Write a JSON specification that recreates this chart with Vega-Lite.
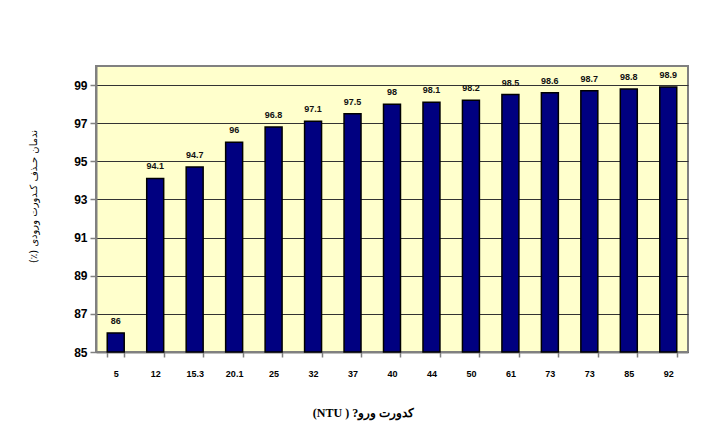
{
  "$schema": "https://vega.github.io/schema/vega-lite/v6.json",
  "autosize": "none",
  "width": 592,
  "height": 286,
  "padding": {"left": 96, "top": 66, "right": 22, "bottom": 95},
  "background": "white",
  "config": {
    "view": {"fill": "#FFFFCC", "stroke": "#808080", "strokeWidth": 2},
    "font": "Liberation Sans"
  },
  "data": {
    "values": [
      {"c": "5", "v": 86},
      {"c": "12", "v": 94.1},
      {"c": "15.3", "v": 94.7},
      {"c": "20.1", "v": 96},
      {"c": "25", "v": 96.8},
      {"c": "32", "v": 97.1},
      {"c": "37", "v": 97.5},
      {"c": "40", "v": 98},
      {"c": "44", "v": 98.1},
      {"c": "50", "v": 98.2},
      {"c": "61", "v": 98.5},
      {"c": "73", "v": 98.6},
      {"c": "73 ", "v": 98.7},
      {"c": "85", "v": 98.8},
      {"c": "92", "v": 98.9}
    ]
  },
  "encoding": {
    "x": {
      "field": "c",
      "type": "nominal",
      "sort": null,
      "scale": {"paddingInner": 0.57, "paddingOuter": 0.285},
      "axis": {
        "title": "(NTU ) ?كدورت ورو",
        "titleFont": "Liberation Serif",
        "titleFontSize": 12,
        "titleFontWeight": "bold",
        "titleColor": "black",
        "titleX": 267,
        "titleY": 60,
        "titleBaseline": "middle",
        "labelAngle": 0,
        "labelFontSize": 9,
        "labelFontWeight": "bold",
        "labelColor": "black",
        "labelPadding": 12,
        "tickBand": "extent",
        "tickColor": "#808080",
        "tickWidth": 1.5,
        "tickSize": 5,
        "domainColor": "#808080",
        "domainWidth": 2
      }
    },
    "y": {
      "field": "v",
      "type": "quantitative",
      "scale": {"domain": [85, 100], "nice": false, "zero": false},
      "axis": {
        "title": "(٪) ندمان حـذف كـدورت ورودی",
        "titleFont": "DejaVu Sans",
        "titleFontSize": 10,
        "titleFontWeight": "normal",
        "titleColor": "black",
        "titleX": -63,
        "titleY": 130,
        "titleAngle": -90,
        "titleAlign": "center",
        "titleBaseline": "middle",
        "values": [85, 87, 89, 91, 93, 95, 97, 99],
        "labelFontSize": 12,
        "labelFontWeight": "bold",
        "labelColor": "black",
        "labelPadding": 3,
        "tickColor": "#808080",
        "tickSize": 6,
        "tickWidth": 1.5,
        "domainColor": "#808080",
        "domainWidth": 2,
        "grid": true,
        "gridColor": "#333333",
        "gridWidth": 1
      }
    }
  },
  "layer": [
    {
      "mark": {"type": "bar", "fill": "#000080", "stroke": "black", "strokeWidth": 1.5},
      "encoding": {"y2": {"datum": 85}}
    },
    {
      "mark": {"type": "text", "baseline": "bottom", "dy": -7, "fontSize": 9, "fontWeight": "bold", "color": "#111111"},
      "encoding": {"text": {"field": "v", "type": "quantitative"}}
    }
  ]
}
